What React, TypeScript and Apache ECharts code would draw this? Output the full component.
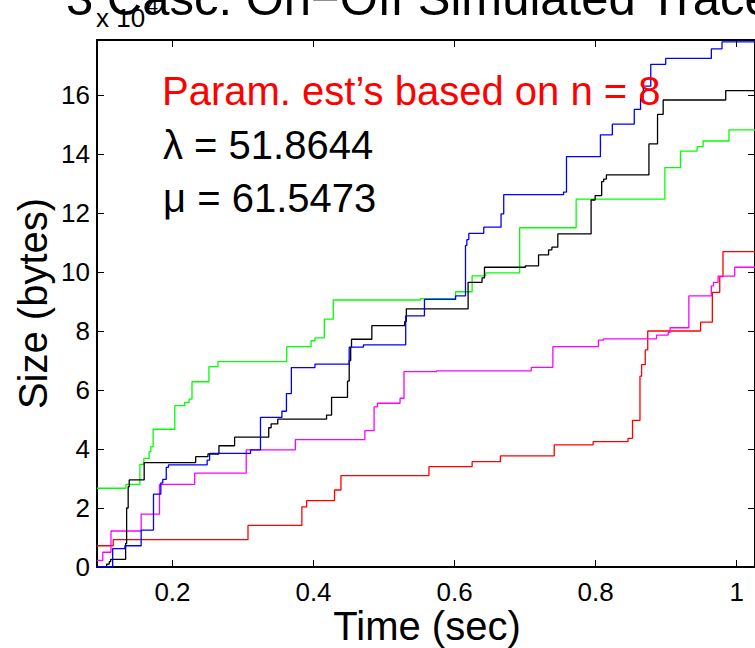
import React, { useEffect, useRef } from 'react';
import * as echarts from 'echarts';

const FONT = '"Liberation Sans", Arial, Helvetica, sans-serif';

const xTicks = [0.2, 0.4, 0.6, 0.8, 1.0];
const yTicks = [0, 2, 4, 6, 8, 10, 12, 14, 16];
const xMin = 0.093;
const xMax = 1.026;
const yMin = 0;
const yMax = 17.864;

// Time (sec) / cumulative size (x 10^4 bytes) for each simulated trace
const blueTime = [0.093, 0.1152, 0.1326, 0.1556, 0.1731, 0.1835, 0.1863, 0.1912, 0.1943, 0.2492, 0.2527, 0.3107, 0.3248, 0.3552, 0.3616, 0.3686, 0.4021, 0.4506, 0.4708, 0.5307, 0.5573, 0.6014, 0.6155, 0.6174, 0.6202, 0.6414, 0.6659, 0.6697, 0.7545, 0.7587, 0.8068, 0.8237, 0.8548, 0.8637, 0.8676, 0.8782, 0.8994, 0.9641, 0.9792, 1.026];
const blueSize = [0, 0.62, 0.72, 1.25, 2.47, 2.85, 2.97, 3.38, 3.46, 3.62, 3.85, 3.97, 5.07, 5.28, 5.88, 6.76, 6.88, 7.45, 7.53, 8.51, 9.07, 9.19, 10.9, 11.1, 11.31, 11.52, 11.97, 12.62, 12.71, 13.91, 14.65, 15.01, 15.51, 15.89, 16.3, 17.04, 17.24, 17.56, 17.8, 17.8];

const blackTime = [0.093, 0.1067, 0.1104, 0.1124, 0.1336, 0.135, 0.1372, 0.1387, 0.1599, 0.2329, 0.2503, 0.2659, 0.2881, 0.3365, 0.3399, 0.3493, 0.4185, 0.4256, 0.4482, 0.4506, 0.4527, 0.4539, 0.4827, 0.5293, 0.5316, 0.6192, 0.639, 0.6424, 0.7004, 0.7191, 0.7333, 0.738, 0.7464, 0.7936, 0.7993, 0.8086, 0.8114, 0.8153, 0.8756, 0.8878, 0.8958, 0.9845, 1.026];
const blackSize = [0, 0.1, 0.18, 0.26, 0.8, 2.0, 2.72, 2.95, 3.54, 3.74, 3.83, 4.11, 4.4, 4.72, 4.85, 5.01, 5.15, 5.75, 6.3, 7.0, 7.45, 7.72, 8.18, 8.32, 8.75, 9.65, 9.8, 10.16, 10.21, 10.58, 10.75, 10.84, 11.29, 12.44, 12.59, 13.06, 13.15, 13.29, 14.34, 15.34, 15.83, 16.15, 16.15];

const greenTime = [0.093, 0.134, 0.1538, 0.1594, 0.1669, 0.1693, 0.1726, 0.2033, 0.2174, 0.2235, 0.2277, 0.2517, 0.2645, 0.362, 0.3965, 0.4021, 0.4153, 0.428, 0.5519, 0.6014, 0.6249, 0.6442, 0.6923, 0.7724, 0.8982, 0.9203, 0.9439, 0.9524, 0.9891, 1.026];
const greenSize = [2.67, 2.8, 3.48, 3.68, 3.91, 4.08, 4.67, 5.47, 5.58, 5.69, 6.28, 6.79, 6.96, 7.47, 7.67, 7.77, 8.4, 9.05, 9.1, 9.33, 9.87, 9.97, 11.5, 12.47, 13.54, 14.1, 14.25, 14.44, 14.82, 14.82];

const magentaTime = [0.093, 0.1012, 0.1128, 0.1556, 0.1816, 0.2315, 0.3046, 0.3743, 0.4728, 0.4859, 0.4906, 0.5227, 0.5283, 0.5746, 0.7088, 0.7394, 0.804, 0.811, 0.8864, 0.9029, 0.9057, 0.9322, 0.9641, 0.9672, 0.9736, 0.9972, 1.026];
const magentaSize = [0.22, 0.5, 1.22, 1.79, 2.8, 3.18, 3.97, 4.32, 4.62, 5.43, 5.55, 5.72, 6.62, 6.65, 6.77, 7.47, 7.69, 7.73, 7.86, 7.95, 8.11, 9.19, 9.53, 9.65, 9.86, 10.16, 10.16];

const redTime = [0.093, 0.116, 0.3071, 0.3835, 0.3902, 0.4298, 0.4389, 0.5637, 0.6249, 0.665, 0.7413, 0.7965, 0.8459, 0.8523, 0.8629, 0.8652, 0.8704, 0.8739, 0.9488, 0.9655, 0.976, 0.9806, 1.026];
const redSize = [0.72, 0.93, 1.41, 2.04, 2.25, 2.61, 3.1, 3.4, 3.57, 3.77, 4.14, 4.25, 4.36, 4.97, 6.47, 6.86, 7.36, 8.0, 8.3, 9.31, 9.84, 10.69, 10.69];

const titleText = '3 Casc. On\u2212Off Simulated Traces';
const xLabel = 'Time (sec)';
const yLabel = 'Size (bytes)';
const annotation = 'Param. est\u2019s based on n = 8';
const lambdaText = '\u03BB = 51.8644';
const muText = '\u03BC = 61.5473';

const traces = [
  { name: 'red', color: '#ff0000', t: redTime, s: redSize },
  { name: 'magenta', color: '#ff00ff', t: magentaTime, s: magentaSize },
  { name: 'green', color: '#00ff00', t: greenTime, s: greenSize },
  { name: 'black', color: '#000000', t: blackTime, s: blackSize },
  { name: 'blue', color: '#0000ff', t: blueTime, s: blueSize },
];

function txt(text: string, x: number, y: number, fontSize: number, opts: any = {}) {
  const align = opts.align || 'left';
  return {
    type: 'text',
    x,
    y,
    rotation: opts.rotation || 0,
    z: 100,
    style: {
      text,
      fontSize,
      fontFamily: FONT,
      fill: opts.fill || '#000',
      align,
      textAlign: align,
      verticalAlign: 'middle',
      textVerticalAlign: 'middle',
    },
  };
}

export default function App() {
  const ref = useRef<HTMLDivElement>(null);
  useEffect(() => {
    if (!ref.current) return;
    const chart = echarts.init(ref.current, undefined, { renderer: 'svg' });
    const axisLine = { show: true, onZero: false, lineStyle: { color: '#000', width: 2 } };
    const tick = (vals: number[]) => ({
      show: true,
      inside: true,
      length: 7,
      customValues: vals,
      lineStyle: { color: '#000', width: 1 },
    });
    const label = (vals: number[], margin: number) => ({
      show: true,
      customValues: vals,
      fontSize: 26,
      fontFamily: FONT,
      color: '#000',
      margin,
    });
    chart.setOption({
      animation: false,
      backgroundColor: '#fff',
      grid: { left: 97, top: 40, width: 660, height: 527, containLabel: false },
      xAxis: [
        {
          type: 'value', position: 'bottom', min: xMin, max: xMax,
          axisLine, axisTick: tick(xTicks), axisLabel: label(xTicks, 12), splitLine: { show: false },
        },
        {
          type: 'value', position: 'top', min: xMin, max: xMax,
          axisLine, axisTick: tick(xTicks), axisLabel: { show: false }, splitLine: { show: false },
        },
      ],
      yAxis: [
        {
          type: 'value', position: 'left', min: yMin, max: yMax,
          axisLine, axisTick: tick(yTicks), axisLabel: label(yTicks, 7), splitLine: { show: false },
        },
        {
          type: 'value', position: 'right', min: yMin, max: yMax,
          axisLine, axisTick: tick(yTicks), axisLabel: { show: false }, splitLine: { show: false },
        },
      ],
      series: traces.map((tr) => ({
        name: tr.name,
        type: 'line',
        xAxisIndex: 0,
        yAxisIndex: 0,
        step: 'end',
        showSymbol: false,
        symbol: 'none',
        lineStyle: { color: tr.color, width: 1.3 },
        itemStyle: { color: tr.color },
        data: tr.t.map((v, i) => [v, tr.s[i]]),
      })),
      graphic: [
        txt(titleText, 66, -2, 49),
        txt('x 10', 96, 17.7, 26),
        txt('4', 147, 5, 20),
        txt(annotation, 162, 91.1, 40, { fill: '#ff0000' }),
        txt(lambdaText, 163, 145.4, 40),
        txt(muText, 163, 197.8, 40),
        txt(xLabel, 427, 626.1, 40, { align: 'center' }),
        txt(yLabel, 33, 303.5, 40, { align: 'center', rotation: Math.PI / 2 }),
      ],
    });
    return () => chart.dispose();
  }, []);
  return (
    <div
      ref={ref}
      style={{ position: 'fixed', left: 0, top: 0, width: 755, height: 648, overflow: 'hidden', background: '#fff' }}
    />
  );
}
